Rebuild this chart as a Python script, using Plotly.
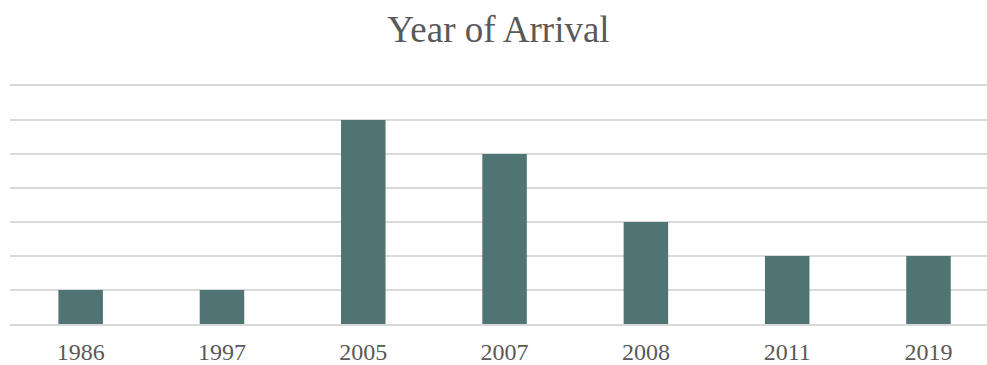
import plotly.graph_objects as go

# Year of arrival counts
years = ["1986", "1997", "2005", "2007", "2008", "2011", "2019"]
counts = [1, 1, 6, 5, 3, 2, 2]

bar_color = "#4f7473"
text_color = "#595959"
grid_color = "#d9d9d9"
serif = "Liberation Serif, Times New Roman, serif"

fig = go.Figure(
    go.Bar(
        x=list(range(len(years))),
        y=counts,
        width=0.315,
        marker=dict(color=bar_color, line=dict(width=0)),
        hoverinfo="skip",
    )
)

fig.update_layout(
    width=987,
    height=365,
    margin=dict(l=10, r=0, t=86, b=36),
    paper_bgcolor="white",
    plot_bgcolor="white",
    showlegend=False,
    title=dict(
        text="Year of Arrival",
        font=dict(family=serif, size=37, color=text_color),
        x=0.5,
        xanchor="center",
        xref="paper",
        yref="container",
        y=1 - 29 / 365,
        yanchor="middle",
    ),
)

# Horizontal lines at the bottom and top edges of the plot area
fig.update_xaxes(
    tickmode="array",
    tickvals=list(range(len(years))),
    ticktext=years,
    range=[-0.5, 6.414],
    showgrid=False,
    zeroline=False,
    showline=True,
    mirror=True,
    linecolor=grid_color,
    linewidth=1.5,
    ticks="",
    tickfont=dict(family=serif, size=24, color=text_color),
    ticklabelstandoff=5,
)

fig.update_yaxes(
    range=[0, 7],
    dtick=1,
    showgrid=True,
    gridcolor=grid_color,
    gridwidth=1.5,
    zeroline=False,
    showline=False,
    showticklabels=False,
    ticks="",
)

fig.write_html("out.html")
